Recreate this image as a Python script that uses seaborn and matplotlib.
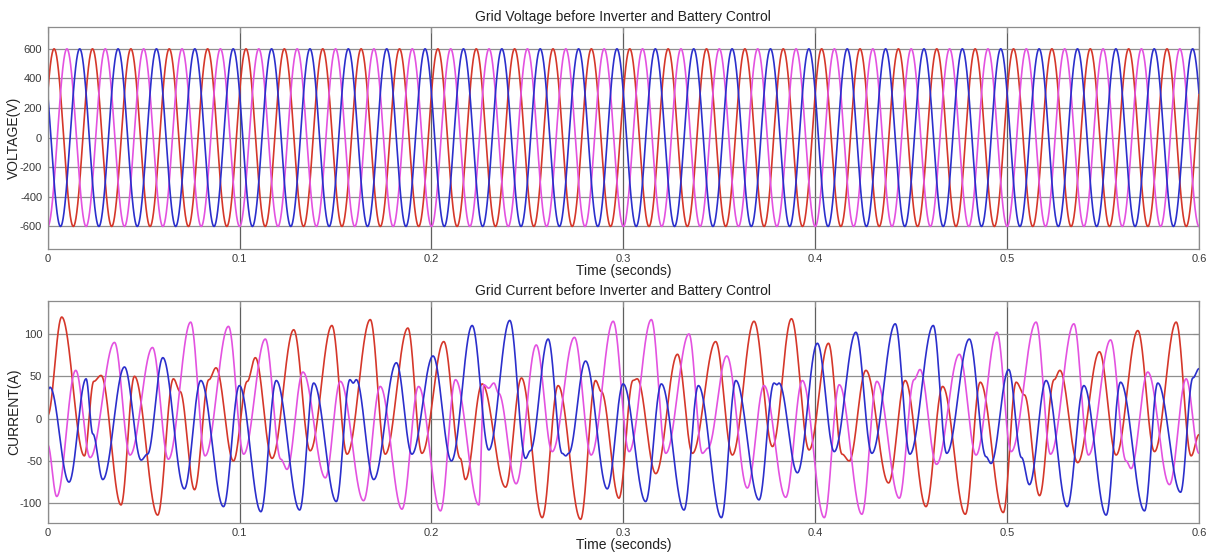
import numpy as np
import pandas as pd
import matplotlib
matplotlib.use("Agg")
import matplotlib.pyplot as plt
from matplotlib.ticker import FuncFormatter
import seaborn as sns

# ---- grid voltage: balanced three-phase supply ----
V_PEAK = 600.0            # V
F_GRID = 50.0             # Hz
PHASE_NAMES = ["A", "B", "C"]
V_PHASE_DEG = [30.0, -90.0, 150.0]
PHASE_COLORS = ["#d5372a", "#e352e0", "#2b2fcc"]

# ---- grid current: turning points of each phase (time s, current A) ----
IA_T = [0.0000, 0.0073, 0.0191, 0.0240, 0.0278, 0.0382, 0.0452, 0.0573, 0.0655, 0.0690,
        0.0765, 0.0840, 0.0877, 0.0968, 0.1040, 0.1082, 0.1169, 0.1282, 0.1368, 0.1481,
        0.1560, 0.1681, 0.1759, 0.1877, 0.1950, 0.2064, 0.2150, 0.2177, 0.2264, 0.2386,
        0.2469, 0.2577, 0.2660, 0.2777, 0.2855, 0.2885, 0.2977, 0.3050, 0.3072, 0.3169,
        0.3282, 0.3360, 0.3481, 0.3568, 0.3681, 0.3777, 0.3876, 0.3968, 0.4069, 0.4140,
        0.4177, 0.4264, 0.4382, 0.4469, 0.4577, 0.4664, 0.4782, 0.4860, 0.4980, 0.5047,
        0.5090, 0.5169, 0.5245, 0.5275, 0.5368, 0.5481, 0.5568, 0.5681, 0.5768, 0.5881,
        0.5959, 0.6000]
IA_V = [4, 120, -44, 44, 51, -102, 50, -114, 47, 32,
        -84, 46, 60, -50, 44, 72, -47, 105, -38, 110,
        -42, 117, -42, 107, -41, 91, -47, -72, 41, -81,
        48, -117, 39, -119, 45, 32, -94, 45, 47, -65,
        76, -41, 91, -43, 115, -33, 118, -37, 89, -42,
        -50, 57, -76, 45, -104, 38, -113, 43, -111, 43,
        28, -91, 46, 57, -52, 79, -43, 104, -39, 114,
        -44, -19]

IB_T = [0.0000, 0.0047, 0.0146, 0.0221, 0.0348, 0.0429, 0.0546, 0.0629, 0.0745, 0.0820,
        0.0942, 0.1021, 0.1134, 0.1215, 0.1247, 0.1330, 0.1447, 0.1525, 0.1646, 0.1733,
        0.1846, 0.1933, 0.2047, 0.2125, 0.2247, 0.2273, 0.2298, 0.2325, 0.2350, 0.2441,
        0.2546, 0.2629, 0.2745, 0.2832, 0.2947, 0.3030, 0.3146, 0.3221, 0.3342, 0.3412,
        0.3440, 0.3539, 0.3646, 0.3733, 0.3846, 0.3933, 0.4047, 0.4125, 0.4243, 0.4321,
        0.4438, 0.4515, 0.4546, 0.4632, 0.4751, 0.4838, 0.4947, 0.5021, 0.5151, 0.5226,
        0.5348, 0.5424, 0.5539, 0.5620, 0.5646, 0.5733, 0.5846, 0.5933, 0.6000]
IB_V = [-31, -92, 57, -46, 90, -43, 84, -48, 114, -44,
        109, -42, 94, -48, -60, 55, -70, 44, -97, 38,
        -107, 38, -109, 46, -102, 40, 36, 42, 30, -77,
        87, -39, 96, -43, 115, -39, 117, -41, 100, -41,
        -35, 74, -82, 39, -93, 45, -117, 40, -113, 44,
        -94, 46, 58, -54, 76, -43, 102, -39, 114, -42,
        112, -43, 93, -50, -59, 55, -78, 47, -41]

IC_T = [0.0000, 0.0012, 0.0111, 0.0200, 0.0235, 0.0287, 0.0400, 0.0487, 0.0520, 0.0600,
        0.0712, 0.0798, 0.0916, 0.0999, 0.1111, 0.1191, 0.1313, 0.1386, 0.1504, 0.1575,
        0.1592, 0.1608, 0.1699, 0.1817, 0.1898, 0.2008, 0.2104, 0.2212, 0.2299, 0.2408,
        0.2490, 0.2515, 0.2608, 0.2681, 0.2700, 0.2715, 0.2803, 0.2916, 0.2999, 0.3116,
        0.3198, 0.3316, 0.3391, 0.3511, 0.3586, 0.3707, 0.3785, 0.3800, 0.3811, 0.3907,
        0.4011, 0.4099, 0.4212, 0.4295, 0.4417, 0.4493, 0.4615, 0.4685, 0.4803, 0.4890,
        0.4916, 0.5008, 0.5075, 0.5116, 0.5203, 0.5313, 0.5400, 0.5516, 0.5591, 0.5716,
        0.5785, 0.5904, 0.5968, 0.6000]
IC_V = [34, 37, -75, 47, -18, -72, 61, -49, -42, 72,
        -83, 45, -104, 39, -110, 45, -108, 42, -98, 46,
        42, 46, -72, 66, -42, 74, -50, 110, -37, 116,
        -47, -38, 94, -41, -44, -41, 68, -83, 41, -98,
        41, -108, 39, -117, 45, -96, 42, 40, 42, -64,
        89, -39, 102, -41, 112, -42, 110, -41, 94, -45,
        -53, 58, -46, -78, 45, -104, 39, -114, 43, -109,
        42, -87, 48, 59]

T_END = 0.6
V_TICKS = [-600, -400, -200, 0, 200, 400, 600]
I_TICKS = [-100, -50, 0, 50, 100]
X_TICKS = [0, 0.1, 0.2, 0.3, 0.4, 0.5, 0.6]


def smooth_through(t_pts, v_pts, t):
    """Smooth curve passing through each turning point (half-cosine segments)."""
    tp = np.asarray(t_pts, float)
    vp = np.asarray(v_pts, float)
    idx = np.clip(np.searchsorted(tp, t, side="right") - 1, 0, len(tp) - 2)
    s = (t - tp[idx]) / (tp[idx + 1] - tp[idx])
    w = 0.5 * (1 - np.cos(np.pi * np.clip(s, 0, 1)))
    return vp[idx] + (vp[idx + 1] - vp[idx]) * w


t = np.linspace(0, T_END, 8000)
v_frames = []
for name, ph in zip(PHASE_NAMES, V_PHASE_DEG):
    v = V_PEAK * np.sin(2 * np.pi * F_GRID * t + np.deg2rad(ph))
    v_frames.append(pd.DataFrame({"t": t, "value": v, "phase": name}))
volt = pd.concat(v_frames, ignore_index=True)

i_frames = []
for name, (tp, vp) in zip(PHASE_NAMES, [(IA_T, IA_V), (IB_T, IB_V), (IC_T, IC_V)]):
    i_frames.append(pd.DataFrame({"t": t, "value": smooth_through(tp, vp, t), "phase": name}))
curr = pd.concat(i_frames, ignore_index=True)

sns.set_theme(style="white")
plt.rcParams["font.family"] = ["Liberation Sans", "DejaVu Sans"]

fig = plt.figure(figsize=(12.11, 5.55), dpi=100)
ax1 = fig.add_axes([0.0394, 0.552, 0.9507, 0.400])
ax2 = fig.add_axes([0.0394, 0.0582, 0.9507, 0.3995])

palette = dict(zip(PHASE_NAMES, PHASE_COLORS))
sns.lineplot(data=volt, x="t", y="value", hue="phase", palette=palette,
             estimator=None, sort=False, legend=False, linewidth=1.2, ax=ax1)
sns.lineplot(data=curr, x="t", y="value", hue="phase", palette=palette,
             estimator=None, sort=False, legend=False, linewidth=1.2, ax=ax2)

fmt = FuncFormatter(lambda x, _: f"{x:g}")
panels = [
    (ax1, (-750, 750), V_TICKS, "VOLTAGE(V)", "Grid Voltage before Inverter and Battery Control"),
    (ax2, (-123, 139), I_TICKS, "CURRENT(A)", "Grid Current before Inverter and Battery Control"),
]
for ax, ylim, yt, ylab, title in panels:
    ax.set_xlim(0, T_END)
    ax.set_ylim(*ylim)
    ax.set_xticks(X_TICKS)
    ax.set_yticks(yt)
    ax.xaxis.set_major_formatter(fmt)
    ax.yaxis.set_major_formatter(fmt)
    ax.set_axisbelow(True)
    ax.yaxis.grid(True, color="#8f8f8f", linewidth=0.9)
    ax.xaxis.grid(True, color="#5f5f5f", linewidth=0.9)
    for sp in ax.spines.values():
        sp.set_color("#8c8c8c")
        sp.set_linewidth(0.9)
    ax.tick_params(direction="in", length=4, width=0.8, colors="#8c8c8c",
                   labelcolor="#3a3a3a", labelsize=8, right=True, top=True,
                   pad=4)
    ax.set_ylabel(ylab, fontsize=10, color="#222222", labelpad=-1)
    ax.set_xlabel("Time (seconds)", fontsize=10, color="#222222", labelpad=0)
    ax.set_title(title, fontsize=10, color="#222222", pad=4)

fig.savefig("out.png", dpi=100, facecolor="white")
